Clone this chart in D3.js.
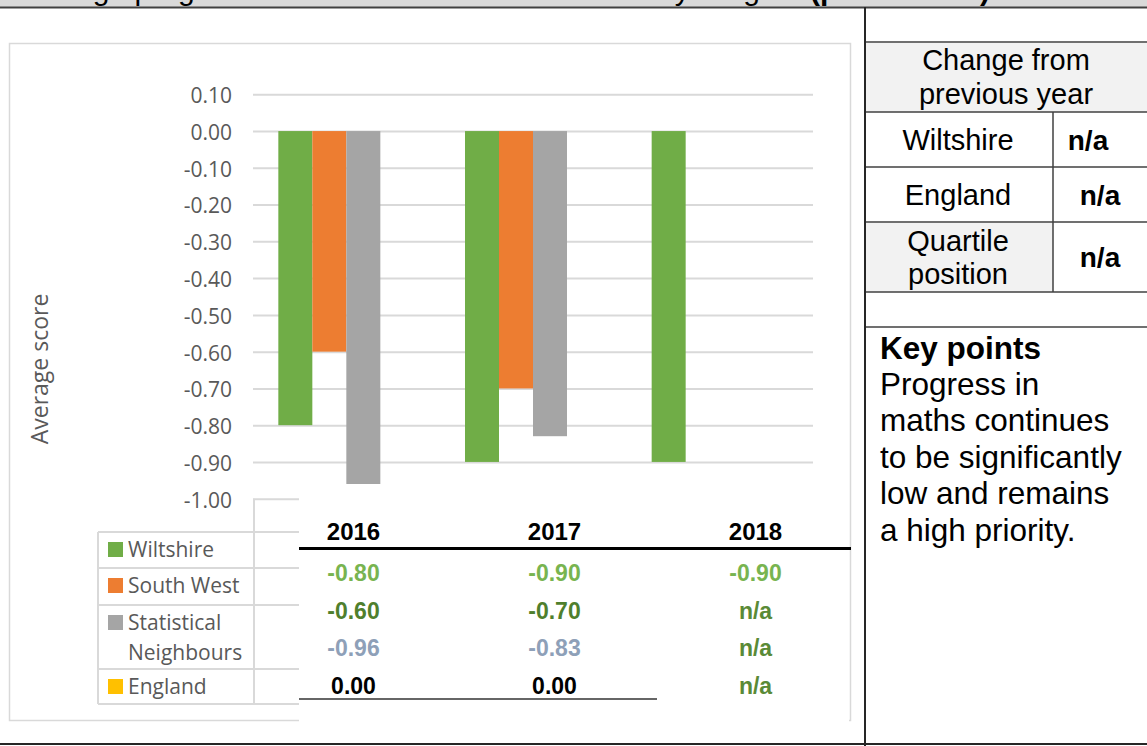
<!DOCTYPE html>
<html>
<head>
<meta charset="utf-8">
<script src="https://cdn.jsdelivr.net/npm/d3@7"></script>
<style>
  body { margin: 0; background: #fff; }
  svg { display: block; }
</style>
</head>
<body>
<div id="chart-div"></div>
<script>
// global variables
const width = 1147;
const height = 746;

// chart data
const years = ["2016", "2017", "2018"];
const seriesNames = ["Wiltshire", "South West", "Statistical Neighbours", "England"];
const seriesColors = ["#70ad47", "#ed7d31", "#a5a5a5", "#ffc000"];
const wiltshire = [-0.80, -0.90, -0.90];
const southWest = [-0.60, -0.70, null];
const statNeighbours = [-0.96, -0.83, null];
const england = [0.00, 0.00, null];
const yTicks = [0.10, 0.00, -0.10, -0.20, -0.30, -0.40, -0.50, -0.60, -0.70, -0.80, -0.90, -1.00];

// text table colours per row
const rowColors = ["#78b450", "#4f7f2d", "#8ea0b8", "#000000"];
const naColor = "#5a8a36";

// right hand panel
const titleText = "Average progress score in maths at the end of Key Stage 2 ";
const titleBold = "(provisional)";
const changeHeader = ["Change from", "previous year"];
const changeRows = [["Wiltshire"], ["England"], ["Quartile", "position"]];
const changeValues = ["n/a", "n/a", "n/a"];
const keyTitle = "Key points";
const keyLines = ["Progress in", "maths continues", "to be significantly", "low and remains", "a high priority."];

const allSeries = [wiltshire, southWest, statNeighbours, england];

function makeChart() {
    var svg = d3.select("#chart-div")
        .append("svg")
        .attr("width", width)
        .attr("height", height);

    // title band (cut off at the top of the page)
    svg.append("rect")
        .attr("x", 0).attr("y", 0)
        .attr("width", width).attr("height", 7)
        .attr("fill", "#d9d9d9");

    svg.append("clipPath").attr("id", "title-clip")
        .append("rect")
        .attr("x", 0).attr("y", 0)
        .attr("width", width).attr("height", 6);

    var title = svg.append("text")
        .attr("clip-path", "url(#title-clip)")
        .attr("x", 15)
        .attr("y", 0)
        .style("font-family", "Liberation Sans, Arial, sans-serif")
        .style("font-size", "30px")
        .attr("fill", "#000");
    title.append("tspan").text(titleText);
    title.append("tspan").style("font-weight", "bold").text(titleBold);

    // chart box
    svg.append("rect")
        .attr("x", 9.5).attr("y", 43.5)
        .attr("width", 841).attr("height", 677)
        .attr("fill", "#fff")
        .attr("stroke", "#d9d9d9")
        .attr("stroke-width", 1.5);

    // scales
    var xScale = d3.scaleBand()
        .domain(years)
        .range([253, 813])
        .paddingInner(0.2714)
        .paddingOuter(0.1357);

    var xSeries = d3.scaleBand()
        .domain(seriesNames)
        .range([0, xScale.bandwidth()]);

    var yScale = d3.scaleLinear()
        .domain([-1.0, 0.1])
        .range([498.7, 94.3]);

    // y axis with gridlines
    var yAxis = d3.axisLeft()
        .scale(yScale)
        .tickValues(yTicks)
        .tickFormat((d) => { return d.toFixed(2); })
        .tickPadding(21)
        .tickSize(-(813 - 253));

    var yAxisG = svg.append("g").attr("id", "y-axis")
        .attr("transform", "translate(253,0)")
        .call(yAxis);
    yAxisG.select(".domain").remove();
    yAxisG.selectAll("line")
        .attr("stroke", "#d9d9d9")
        .attr("stroke-width", 2);
    yAxisG.selectAll("text")
        .attr("fill", "#595959")
        .attr("dy", "0.4em")
        .style("font-family", "Open Sans, sans-serif")
        .style("font-size", "21px");

    // y label
    svg.append("text")
        .attr("transform", "translate(48,369) rotate(-90)")
        .style("text-anchor", "middle")
        .style("font-family", "Open Sans, sans-serif")
        .style("font-size", "23px")
        .attr("fill", "#595959")
        .text("Average score");

    // bars
    var bars = [];
    allSeries.forEach((s, i) => {
        s.forEach((v, j) => {
            if (v !== null) {
                bars.push({ year: years[j], series: seriesNames[i], value: v, color: seriesColors[i] });
            }
        });
    });

    svg.append("g").attr("id", "bars")
        .selectAll("rect")
        .data(bars)
        .enter()
        .append("rect")
        .attr("x", (d) => { return xScale(d.year) + xSeries(d.series); })
        .attr("y", (d) => { return yScale(Math.max(0, d.value)); })
        .attr("width", xSeries.bandwidth())
        .attr("height", (d) => { return Math.abs(yScale(d.value) - yScale(0)); })
        .attr("fill", (d) => { return d.color; });

    ////////////////////////////
    // legend / data table    //
    ////////////////////////////
    var rowTops = [532, 568, 605, 669, 704];
    var axisY = yScale(-1.0);
    var grid = svg.append("g").attr("id", "data-table")
        .attr("stroke", "#d9d9d9")
        .attr("stroke-width", 2)
        .attr("fill", "none");

    grid.append("line").attr("x1", 254).attr("x2", 254).attr("y1", axisY).attr("y2", 704);
    grid.append("line").attr("x1", 98).attr("x2", 98).attr("y1", 532).attr("y2", 704);
    rowTops.forEach((y) => {
        grid.append("line").attr("x1", 98).attr("x2", 300).attr("y1", y).attr("y2", y);
    });

    var legend = svg.append("g").attr("id", "legend")
        .style("font-family", "Open Sans, sans-serif")
        .style("font-size", "21px");

    seriesNames.forEach((name, i) => {
        var top = rowTops[i];
        var lines = name === "Statistical Neighbours" ? ["Statistical", "Neighbours"] : [name];
        legend.append("rect")
            .attr("x", 108)
            .attr("y", top + 10)
            .attr("width", 15)
            .attr("height", 15)
            .attr("fill", seriesColors[i]);
        lines.forEach((l, k) => {
            legend.append("text")
                .attr("x", 128)
                .attr("y", top + 25 + k * 30)
                .attr("fill", "#595959")
                .text(l);
        });
    });

    ////////////////////////////
    // pasted values table    //
    ////////////////////////////
    svg.append("rect")
        .attr("x", 299).attr("y", 495)
        .attr("width", 550).attr("height", 227)
        .attr("fill", "#fff");

    var tableX = d3.scaleBand()
        .domain(years)
        .range([253, 856]);

    var valTable = svg.append("g").attr("id", "value-table")
        .style("font-family", "Liberation Sans, Arial, sans-serif")
        .style("font-weight", "bold")
        .style("text-anchor", "middle");

    valTable.selectAll(".year-label")
        .data(years)
        .enter()
        .append("text")
        .attr("class", "year-label")
        .attr("x", (d) => { return tableX(d) + tableX.bandwidth() / 2; })
        .attr("y", 540)
        .style("font-size", "24px")
        .attr("fill", "#000")
        .text((d) => { return d; });

    valTable.append("line")
        .attr("x1", 299).attr("x2", 851)
        .attr("y1", 548.5).attr("y2", 548.5)
        .attr("stroke", "#000").attr("stroke-width", 3);

    allSeries.forEach((s, i) => {
        valTable.selectAll(".row" + i)
            .data(s)
            .enter()
            .append("text")
            .attr("class", "row" + i)
            .attr("x", (d, j) => { return tableX(years[j]) + tableX.bandwidth() / 2; })
            .attr("y", 581 + i * 37.5)
            .style("font-size", "23px")
            .attr("fill", (d) => { return d === null ? naColor : rowColors[i]; })
            .text((d) => { return d === null ? "n/a" : d.toFixed(2); });
    });

    valTable.append("line")
        .attr("x1", 299).attr("x2", 657)
        .attr("y1", 699).attr("y2", 699)
        .attr("stroke", "#333").attr("stroke-width", 1.5);

    ////////////////////////////
    // right panel            //
    ////////////////////////////
    var panel = svg.append("g").attr("id", "panel")
        .style("font-family", "Liberation Sans, Arial, sans-serif");

    panel.append("rect").attr("x", 866).attr("y", 43).attr("width", 281).attr("height", 69).attr("fill", "#f2f2f2");
    panel.append("rect").attr("x", 866).attr("y", 223).attr("width", 187).attr("height", 69).attr("fill", "#f2f2f2");

    var rowLines = [42, 112, 167, 222, 292, 327];
    rowLines.forEach((y) => {
        panel.append("line")
            .attr("x1", 865).attr("x2", width)
            .attr("y1", y).attr("y2", y)
            .attr("stroke", "#404040").attr("stroke-width", 1.5);
    });
    panel.append("line")
        .attr("x1", 1053).attr("x2", 1053)
        .attr("y1", 112).attr("y2", 292)
        .attr("stroke", "#404040").attr("stroke-width", 1.5);

    changeHeader.forEach((t, k) => {
        panel.append("text")
            .attr("x", 1006)
            .attr("y", 70 + k * 34)
            .style("text-anchor", "middle")
            .style("font-size", "29px")
            .text(t);
    });

    var rowMid = [140, 195, 257];
    var valueX = [1088, 1100, 1100];
    changeRows.forEach((lines, i) => {
        lines.forEach((t, k) => {
            panel.append("text")
                .attr("x", 958)
                .attr("y", rowMid[i] + 10 - (lines.length - 1) * 16.5 + k * 33)
                .style("text-anchor", "middle")
                .style("font-size", "29px")
                .text(t);
        });
        panel.append("text")
            .attr("x", valueX[i])
            .attr("y", rowMid[i] + 10)
            .style("text-anchor", "middle")
            .style("font-size", "28px")
            .style("font-weight", "bold")
            .text(changeValues[i]);
    });

    panel.append("text")
        .attr("x", 880)
        .attr("y", 359)
        .style("font-size", "31.5px")
        .style("font-weight", "bold")
        .text(keyTitle);

    keyLines.forEach((t, k) => {
        panel.append("text")
            .attr("x", 880)
            .attr("y", 395 + k * 36.4)
            .style("font-size", "31.5px")
            .text(t);
    });

    // outer frame lines
    svg.append("line")
        .attr("x1", 0).attr("x2", width)
        .attr("y1", 7.5).attr("y2", 7.5)
        .attr("stroke", "#404040").attr("stroke-width", 2);
    svg.append("line")
        .attr("x1", 865).attr("x2", 865)
        .attr("y1", 7).attr("y2", height)
        .attr("stroke", "#262626").attr("stroke-width", 2);
    svg.append("line")
        .attr("x1", 0).attr("x2", width)
        .attr("y1", 744).attr("y2", 744)
        .attr("stroke", "#262626").attr("stroke-width", 2);
}

makeChart();
</script>
</body>
</html>
